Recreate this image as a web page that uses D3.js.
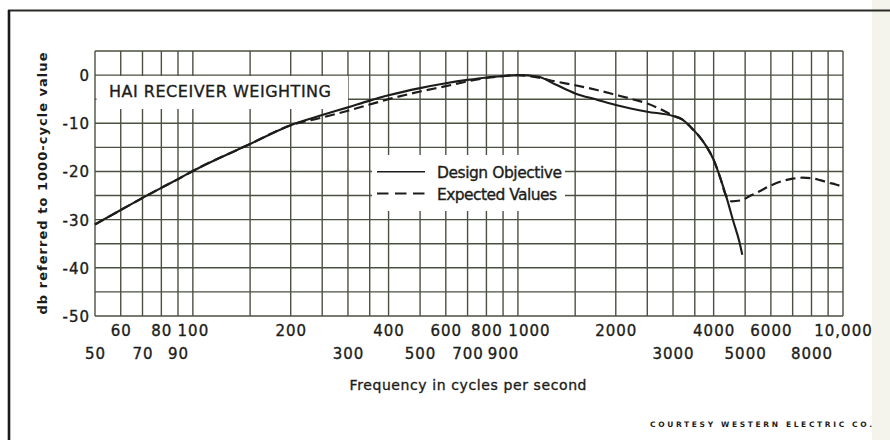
<!DOCTYPE html>
<html>
<head>
<meta charset="utf-8">
<script src="https://cdn.jsdelivr.net/npm/d3@7"></script>
<style>
  html, body { margin: 0; padding: 0; background: #ffffff; }
  svg { display: block; }
  text { font-family: "DejaVu Sans", "Noto Sans", sans-serif; fill: #1c1c1a; stroke: #1c1c1a; stroke-width: 0.35px; }
</style>
</head>
<body>
<script>
// HA1 receiver weighting: response in dB relative to the 1000-cycle value
const freqDesign = [50, 60, 70, 80, 90, 100, 150, 200, 250, 300, 350, 400, 500, 600, 700, 800, 900,
  1000, 1150, 1300, 1500, 1750, 2000, 2500, 3000, 3200, 3400, 3600, 3800, 4000, 4200, 4400, 4600, 4800, 4900];
const dbDesign = [-31, -28, -25.5, -23.4, -21.6, -19.9, -14.3, -10.4, -8.3, -6.7, -5.3, -4.2, -2.7, -1.7, -1.0, -0.5, -0.2,
  0, -0.3, -1.9, -3.8, -5.1, -6.2, -7.6, -8.5, -9.2, -10.8, -12.6, -14.8, -17.6, -21.5, -25.8, -30.4, -34.6, -37.3];

const freqExpected = [50, 60, 70, 80, 90, 100, 150, 200, 250, 300, 350, 400, 500, 600, 700, 800, 900,
  1000, 1150, 1300, 1500, 1750, 2000, 2250, 2500, 2750, 3000, 3200, 3400, 3600, 3800, 4000, 4200, 4350,
  4550, 4850, 5200, 5500, 6000, 6500, 7000, 7500, 8000, 8500, 9000, 9500, 10000];
const dbExpected = [-31, -28, -25.5, -23.4, -21.6, -19.9, -14.3, -10.4, -8.8, -7.4, -6.1, -5.0, -3.4, -2.3, -1.3, -0.6, -0.2,
  0, -0.5, -1.3, -2.1, -3.1, -4.1, -5.0, -5.9, -7.1, -8.4, -9.2, -10.8, -12.6, -14.8, -17.6, -21.5, -24.8,
  -26.2, -26.0, -25.0, -24.2, -22.9, -22.0, -21.5, -21.3, -21.4, -21.8, -22.3, -22.7, -23.2];

// grid rulings and tick labels
const freqGrid = [50, 60, 70, 80, 90, 100, 150, 200, 250, 300, 350, 400, 500, 600, 700, 800, 900,
  1000, 1500, 2000, 2500, 3000, 3500, 4000, 5000, 6000, 7000, 8000, 9000, 10000];
const dbGrid = [5, 0, -5, -10, -15, -20, -25, -30, -35, -40, -45, -50];
const freqLabelsUpper = [60, 80, 100, 200, 400, 600, 800, 1000, 2000, 4000, 6000, 10000];
const freqLabelsLower = [50, 70, 90, 300, 500, 700, 900, 3000, 5000, 8000];
const dbLabels = [0, -10, -20, -30, -40, -50];

const W = 890, H = 440;
const svg = d3.select("body").append("svg").attr("width", W).attr("height", H);

const x = d3.scaleLog().domain([50, 10000]).range([95, 843]);
const y = d3.scaleLinear().domain([-50, 5]).range([316, 51]);

const gridColor = "#4b5141";
const ink = "#1c1c1a";

// page edge and frame
svg.append("rect").attr("x", 872).attr("y", 0).attr("width", 18).attr("height", H).attr("fill", "#f4f4ec");
svg.append("line").attr("x1", 8).attr("x2", 890).attr("y1", 10.5).attr("y2", 10.5)
  .attr("stroke", "#2a2a28").attr("stroke-width", 2);
svg.append("line").attr("x1", 9).attr("x2", 9).attr("y1", 10).attr("y2", 440)
  .attr("stroke", "#1a1a18").attr("stroke-width", 2.6);

// grid
const grid = svg.append("g");
grid.selectAll("line.v").data(freqGrid).join("line")
  .attr("x1", d => x(d)).attr("x2", d => x(d)).attr("y1", y(5)).attr("y2", y(-50))
  .attr("stroke", gridColor).attr("stroke-width", 1.4);
grid.selectAll("line.h").data(dbGrid).join("line")
  .attr("y1", d => y(d)).attr("y2", d => y(d)).attr("x1", x(50)).attr("x2", x(10000))
  .attr("stroke", gridColor).attr("stroke-width", 1.4);

// title panel
svg.append("rect").attr("x", 96.5).attr("y", 76).attr("width", 251.5).attr("height", 33).attr("fill", "#fff");
svg.append("text").attr("x", 109).attr("y", 97).attr("font-size", 16)
  .attr("textLength", 222).attr("lengthAdjust", "spacing").text("HAI RECEIVER WEIGHTING");

// legend panel
svg.append("rect").attr("x", 372).attr("y", 155).attr("width", 193).attr("height", 56).attr("fill", "#fff");
svg.append("line").attr("x1", 377).attr("x2", 425).attr("y1", 171.7).attr("y2", 171.7)
  .attr("stroke", ink).attr("stroke-width", 1.6);
svg.append("line").attr("x1", 377).attr("x2", 425).attr("y1", 193.5).attr("y2", 193.5)
  .attr("stroke", ink).attr("stroke-width", 2.2).attr("stroke-dasharray", "11.5,6.5");
svg.append("text").attr("x", 437).attr("y", 177.5).attr("font-size", 15.5)
  .attr("textLength", 125).attr("lengthAdjust", "spacing").text("Design Objective");
svg.append("text").attr("x", 437).attr("y", 199.5).attr("font-size", 15.5)
  .attr("textLength", 120).attr("lengthAdjust", "spacing").text("Expected Values");

// curves
const line = d3.line().x(d => x(d[0])).y(d => y(d[1])).curve(d3.curveMonotoneX);
svg.append("path").datum(d3.zip(freqExpected, dbExpected)).attr("d", line)
  .attr("fill", "none").attr("stroke", ink).attr("stroke-width", 2.2)
  .attr("stroke-dasharray", "10,5");
svg.append("path").datum(d3.zip(freqDesign, dbDesign)).attr("d", line)
  .attr("fill", "none").attr("stroke", ink).attr("stroke-width", 2.1)
  .attr("stroke-linejoin", "round");

// axes
const fmtFreq = d => d >= 10000 ? d3.format(",")(d) : String(d);
const axUpper = svg.append("g").attr("transform", `translate(0,${y(-50) + 9})`)
  .call(d3.axisBottom(x).tickValues(freqLabelsUpper).tickFormat(fmtFreq).tickSize(0).tickPadding(0));
const axLower = svg.append("g").attr("transform", `translate(0,${y(-50) + 32})`)
  .call(d3.axisBottom(x).tickValues(freqLabelsLower).tickFormat(fmtFreq).tickSize(0).tickPadding(0));
const axLeft = svg.append("g").attr("transform", `translate(${x(50)},0)`)
  .call(d3.axisLeft(y).tickValues(dbLabels).tickFormat(d => d).tickSize(0).tickPadding(5));
[axUpper, axLower, axLeft].forEach(g => {
  g.select(".domain").remove();
  g.selectAll("text").attr("font-size", 15).attr("fill", ink).attr("letter-spacing", 1);
});
axLeft.selectAll("text").attr("dy", "0.36em");
// the crowded 1000 label sits a little to the right of its ruling
axUpper.selectAll(".tick").filter(d => d === 1000).select("text").attr("dx", 11);

// axis titles
svg.append("text").attr("x", 468).attr("y", 390).attr("text-anchor", "middle").attr("font-size", 14)
  .attr("textLength", 237).attr("lengthAdjust", "spacing").text("Frequency in cycles per second");
svg.append("text").attr("transform", "translate(47,183.5) rotate(-90)").attr("text-anchor", "middle")
  .attr("font-size", 13).attr("font-weight", "bold").style("stroke-width", "0px")
  .attr("textLength", 262).attr("lengthAdjust", "spacing").text("db referred to 1000-cycle value");

// credit line
svg.append("text").attr("x", 650).attr("y", 427).attr("font-size", 7.5).attr("font-weight", "bold")
  .style("stroke-width", "0px")
  .attr("textLength", 222).attr("lengthAdjust", "spacing").text("COURTESY WESTERN ELECTRIC CO.");
</script>
</body>
</html>
